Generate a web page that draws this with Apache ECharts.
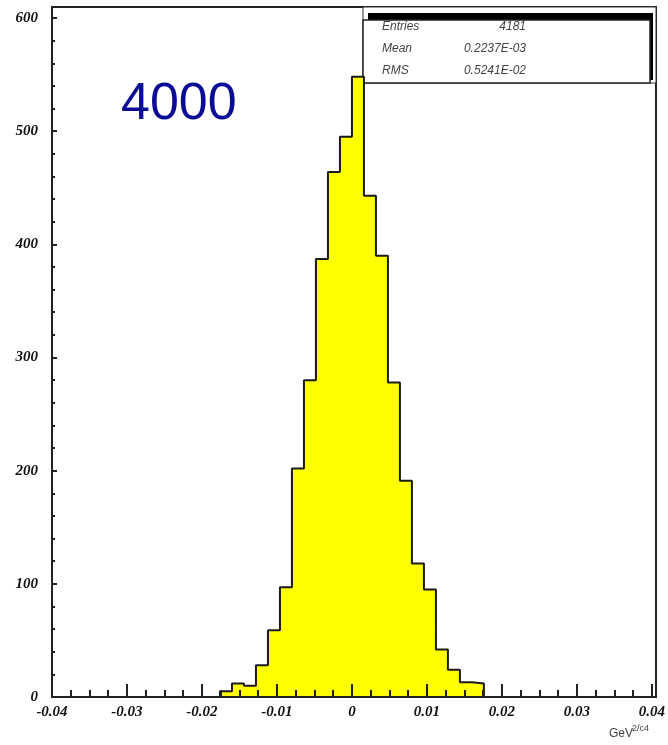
<!DOCTYPE html>
<html>
<head>
<meta charset="utf-8">
<script src="https://cdn.jsdelivr.net/npm/echarts@6/dist/echarts.min.js"></script>
<style>
  html, body { margin: 0; padding: 0; background: #fff; }
  #main { width: 668px; height: 745px; }
</style>
</head>
<body>
<div id="main"></div>
<script>
// histogram bins: first lower edge, width, and counts
const binStart = -0.0176
const binWidth = 0.0016
const counts = [5, 12, 10, 28, 59, 97, 202, 280, 387, 464, 495, 548, 443, 390, 278, 191, 118, 95, 42, 24, 13, 12]
const xTicks = [-0.04, 0.04, 0.01]
const yTicks = [0, 600, 100]
const statNames = ['Entries', 'Mean', 'RMS']
const statValues = ['4181', '0.2237E-03', '0.5241E-02']

const myChart = echarts.init(document.getElementById('main'))

// step outline points at bin edges
const stepData = [[binStart, 0]]
counts.forEach((c, i) => {
  stepData.push([+(binStart + i * binWidth).toFixed(4), c])
})
stepData.push([+(binStart + counts.length * binWidth).toFixed(4), 0])

const labelFont = {
  color: '#111',
  fontFamily: 'Liberation Serif',
  fontStyle: 'italic',
  fontWeight: 'bold',
  fontSize: 15
}

const statText = []
statNames.forEach((name, i) => {
  statText.push({
    type: 'text',
    left: 382,
    top: 21 + i * 22,
    style: { text: name, fill: '#444', font: 'italic 12px "Liberation Sans"' }
  })
  statText.push({
    type: 'text',
    right: 668 - 526,
    top: 21 + i * 22,
    style: { text: statValues[i], fill: '#444', font: 'italic 12px "Liberation Sans"' }
  })
})

const option = {
  animation: false,
  grid: {
    left: 52,
    right: 12,
    top: 18,
    bottom: 48
  },
  xAxis: {
    type: 'value',
    z: 10,
    min: xTicks[0],
    max: xTicks[1],
    interval: xTicks[2],
    axisLine: { onZero: false, lineStyle: { color: '#222', width: 2 } },
    axisTick: { inside: true, length: 13, lineStyle: { color: '#222', width: 2 } },
    minorTick: { show: true, splitNumber: 4, length: 7, lineStyle: { color: '#222', width: 2 } },
    splitLine: { show: false },
    axisLabel: Object.assign({ margin: 8 }, labelFont)
  },
  yAxis: {
    type: 'value',
    z: 10,
    min: yTicks[0],
    max: yTicks[1],
    interval: yTicks[2],
    axisLine: { show: true, onZero: false, lineStyle: { color: '#222', width: 2 } },
    axisTick: { show: true, inside: true, length: 5, lineStyle: { color: '#222', width: 2 } },
    minorTick: { show: true, splitNumber: 5, length: 3, lineStyle: { color: '#222', width: 2 } },
    splitLine: { show: false },
    axisLabel: Object.assign({ margin: 14 }, labelFont)
  },
  graphic: [
    // plot frame
    {
      type: 'rect',
      shape: { x: 52, y: 7, width: 604, height: 690 },
      style: { fill: 'none', stroke: '#222', lineWidth: 2 }
    },
    // stats box
    {
      type: 'rect',
      shape: { x: 363, y: 7, width: 293, height: 76 },
      style: { fill: '#fff', stroke: '#333', lineWidth: 1 }
    },
    {
      type: 'rect',
      shape: { x: 368, y: 13, width: 285, height: 67 },
      style: { fill: '#000' }
    },
    {
      type: 'rect',
      shape: { x: 363, y: 20, width: 287, height: 63 },
      style: { fill: '#fff', stroke: '#222', lineWidth: 1.5 }
    },
    ...statText,
    {
      type: 'text',
      left: 121,
      top: 79,
      style: { text: '4000', fill: '#0b0b96', font: '52px "Liberation Sans"' }
    },
    {
      type: 'text',
      left: 609,
      top: 728,
      style: { text: 'GeV', fill: '#444', font: '12px "Liberation Sans"' }
    },
    {
      type: 'text',
      left: 632,
      top: 724,
      style: { text: '2/c4', fill: '#444', font: '9px "Liberation Sans"' }
    }
  ],
  series: [
    {
      type: 'line',
      step: 'end',
      symbol: 'none',
      z: 5,
      data: stepData,
      lineStyle: { color: '#1a1a1a', width: 2 },
      areaStyle: { color: '#ffff00', opacity: 1 }
    }
  ]
}

myChart.setOption(option)
</script>
</body>
</html>
